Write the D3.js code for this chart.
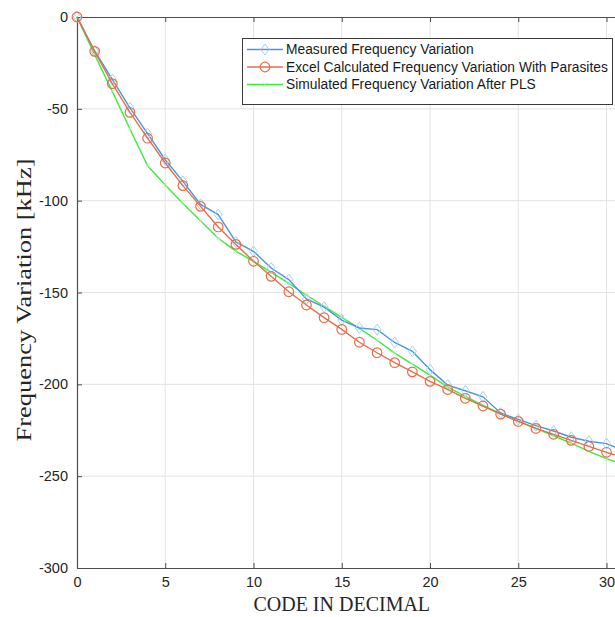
<!DOCTYPE html>
<html>
<head>
<meta charset="utf-8">
<script src="https://cdn.jsdelivr.net/npm/d3@7"></script>
<style>
  html, body { margin: 0; padding: 0; background: #fff; }
  svg { display: block; }
</style>
</head>
<body>
<div id="chart"></div>
<script>
// DAC code (decimal) against frequency shift in kHz
const codes = d3.range(0, 32);
const measured = [0, -18.5, -34, -49.5, -63.5, -77.7, -89.5, -102, -107.6, -122.5,
  -127.6, -136.7, -143, -153.5, -158, -165, -169.3, -170.2, -177.2, -182,
  -192, -200.4, -203.5, -206.8, -215.6, -219.1, -222.5, -225.4, -228.8, -231,
  -232.3, -236];
const excelCalc = [0, -18.7, -36.3, -51.9, -66, -79.5, -91.8, -103.1, -114.3, -123.8,
  -133, -141.2, -149.6, -156.8, -163.7, -170.1, -177.1, -182.8, -188.2, -193.2,
  -198.4, -202.8, -207.6, -211.8, -216.2, -220.2, -224, -227.2, -230.5, -233.8,
  -237, -240];
const simulated = [0, -20.5, -40.5, -61, -81, -91.5, -101.5, -111, -120.5, -127.5,
  -133, -139, -145, -151.5, -157.5, -163.5, -169.5, -176, -183, -189,
  -195, -201.5, -206.5, -211.5, -216, -220, -224, -228, -232, -236.5,
  -240.5, -244];
const xTicks = [0, 5, 10, 15, 20, 25, 30];
const yTicks = [0, -50, -100, -150, -200, -250, -300];
const seriesNames = [
  "Measured Frequency Variation",
  "Excel Calculated Frequency Variation With Parasites",
  "Simulated Frequency Variation After PLS"
];

const W = 615, H = 617;
const mLeft = 77, mTop = 17, mBottom = 568;
const x = d3.scaleLinear().domain([0, 32]).range([mLeft, mLeft + 32 * 17.65]);
const y = d3.scaleLinear().domain([-300, 0]).range([mBottom, mTop]);

const svg = d3.select("#chart").append("svg")
  .attr("width", W).attr("height", H)
  .attr("viewBox", `0 0 ${W} ${H}`);

const plotRight = x(32);

// grid
const grid = svg.append("g");
grid.selectAll("line.gx").data(xTicks.filter(d => d > 0)).join("line")
  .attr("x1", d => x(d)).attr("x2", d => x(d))
  .attr("y1", mTop).attr("y2", mBottom)
  .attr("stroke", "#e3e3e3").attr("stroke-width", 1);
grid.selectAll("line.gy").data(yTicks.filter(d => d > -300 && d < 0)).join("line")
  .attr("x1", mLeft).attr("x2", plotRight)
  .attr("y1", d => y(d)).attr("y2", d => y(d))
  .attr("stroke", "#e3e3e3").attr("stroke-width", 1);

// axes
const axisColor = "#4d4d4d";
const tickFont = "Liberation Sans, Arial, sans-serif";
const plain = d => String(d);
const xAxis = svg.append("g").attr("transform", `translate(0,${mBottom})`)
  .call(d3.axisBottom(x).tickValues(xTicks).tickSizeInner(-5).tickSizeOuter(0).tickPadding(9).tickFormat(plain));
const xTop = svg.append("g").attr("transform", `translate(0,${mTop})`)
  .call(d3.axisTop(x).tickValues(xTicks).tickSizeInner(-5).tickSizeOuter(0).tickFormat(""));
const yAxis = svg.append("g").attr("transform", `translate(${mLeft},0)`)
  .call(d3.axisLeft(y).tickValues(yTicks).tickSizeInner(-5).tickSizeOuter(0).tickPadding(9).tickFormat(plain));
[xAxis, xTop, yAxis].forEach(g => {
  g.select(".domain").attr("stroke", axisColor).attr("stroke-width", 1.2);
  g.selectAll(".tick line").attr("stroke", axisColor);
  g.selectAll(".tick text").attr("fill", "#262626")
    .style("font-family", tickFont).style("font-size", "14.5px");
});

// series
const lineGen = vals => d3.line().x((d, i) => x(codes[i])).y(d => y(d))(vals);
const blue = "#4a97d8", orange = "#e36f4b", green = "#3deb3d";
const diamond = "M0,-5.5L4,0L0,5.5L-4,0Z";
const cross = "M-2.2,-2.2L2.2,2.2M-2.2,2.2L2.2,-2.2";

const gS = svg.append("g");
gS.append("path").attr("d", lineGen(simulated))
  .attr("fill", "none").attr("stroke", green).attr("stroke-width", 1.4);
gS.selectAll("path.sx").data(simulated).join("path")
  .attr("transform", (d, i) => `translate(${x(codes[i])},${y(d)})`)
  .attr("d", cross)
  .attr("stroke", "#b0f0b0").attr("stroke-width", 0.8).attr("fill", "none");

gS.append("path").attr("d", lineGen(measured))
  .attr("fill", "none").attr("stroke", blue).attr("stroke-width", 1.4);
gS.selectAll("path.md").data(measured).join("path")
  .attr("transform", (d, i) => `translate(${x(codes[i])},${y(d)})`)
  .attr("d", diamond)
  .attr("stroke", "#a6d0f2").attr("stroke-width", 1).attr("fill", "none");

gS.append("path").attr("d", lineGen(excelCalc))
  .attr("fill", "none").attr("stroke", orange).attr("stroke-width", 1.4);
gS.selectAll("circle.ec").data(excelCalc).join("circle")
  .attr("cx", (d, i) => x(codes[i])).attr("cy", d => y(d)).attr("r", 4.8)
  .attr("stroke", orange).attr("stroke-width", 1.2).attr("fill", "none");

// legend
const lg = svg.append("g");
lg.append("rect").attr("x", 242.5).attr("y", 38.5).attr("width", 370).attr("height", 66)
  .attr("fill", "#fff").attr("stroke", "#3a3a3a").attr("stroke-width", 1);
const rows = [49.5, 67, 84.5];
const colors = [blue, orange, green];
seriesNames.forEach((name, i) => {
  const ry = rows[i];
  lg.append("line").attr("x1", 247).attr("x2", 283).attr("y1", ry).attr("y2", ry)
    .attr("stroke", colors[i]).attr("stroke-width", 1.4);
  if (i === 0) {
    lg.append("path").attr("transform", `translate(265,${ry})`)
      .attr("d", diamond)
      .attr("stroke", "#a6d0f2").attr("stroke-width", 1).attr("fill", "none");
  } else if (i === 1) {
    lg.append("circle").attr("cx", 265).attr("cy", ry).attr("r", 4.8)
      .attr("stroke", orange).attr("stroke-width", 1.2).attr("fill", "none");
  } else {
    lg.append("path").attr("transform", `translate(265,${ry})`)
      .attr("d", cross)
      .attr("stroke", "#b0f0b0").attr("stroke-width", 0.8);
  }
  lg.append("text").attr("x", 286).attr("y", ry).attr("dy", "0.35em")
    .style("font-family", tickFont).style("font-size", "13.8px").attr("fill", "#1a1a1a")
    .text(name);
});

// axis titles
svg.append("text").attr("x", x(15)).attr("y", 611)
  .attr("text-anchor", "middle")
  .style("font-family", "Liberation Serif, Times New Roman, serif").style("font-size", "20px")
  .attr("fill", "#262626").text("CODE IN DECIMAL");
svg.append("text")
  .attr("transform", `translate(31,300) rotate(-90)`)
  .attr("text-anchor", "middle")
  .attr("textLength", 283).attr("lengthAdjust", "spacingAndGlyphs")
  .style("font-family", "Liberation Serif, Times New Roman, serif").style("font-size", "21px")
  .attr("fill", "#262626").text("Frequency Variation [kHz]");
</script>
</body>
</html>
